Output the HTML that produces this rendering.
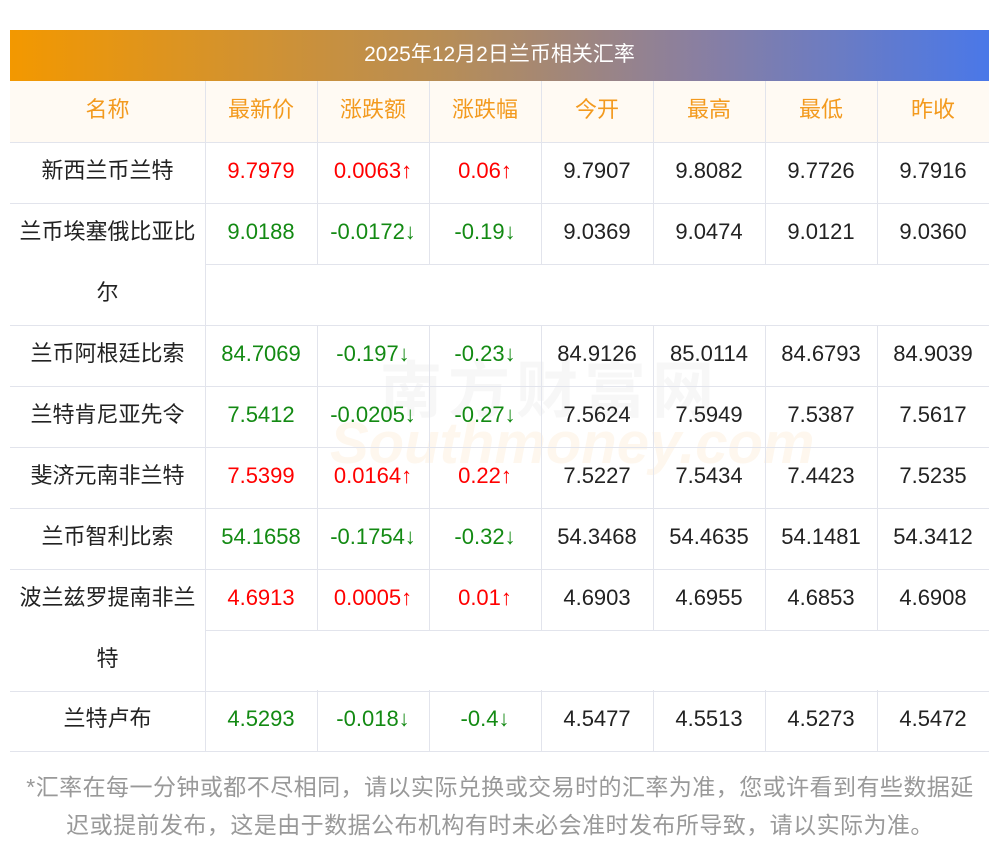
<!DOCTYPE html>
<html><head><meta charset="utf-8"><style>
body{margin:0;width:1000px;height:853px;background:#fff;font-family:"Liberation Sans","Noto Sans CJK SC",sans-serif;position:relative;overflow:hidden}
.t{position:absolute;left:10px;top:30px;width:979px;height:51px;background:linear-gradient(90deg,#f39800,#b68d58 45%,#8a7fa0 70%,#4a78e8);color:#fff;font-size:21px;line-height:49px;text-align:center}
.hd{position:absolute;left:10px;top:81px;width:979px;height:61px;background:#fffaf3}
.c{position:absolute;height:61px;line-height:58px;text-align:center;font-size:22px;box-sizing:border-box;color:#222}
.hl{position:absolute;height:1px;background:#e2e4ec}
.vl{position:absolute;width:1px;background:#e2e4ec}
.n{position:absolute;left:10px;width:195px;text-align:center;font-size:22px;line-height:61px;margin-top:-2px;color:#222}
div.h{color:#f39a1e}
div.r{color:#f00}div.g{color:#138a13}
.f{position:absolute;left:0;width:1000px;text-align:center;color:#999;font-size:23px;letter-spacing:0.45px;white-space:nowrap}
.wm{position:absolute;color:rgba(200,200,200,0.15);font-weight:bold}
</style></head><body>
<div class="t">2025年12月2日兰币相关汇率</div>
<div class="hd"></div>
<div class="wm" style="left:380px;top:340px;font-size:62px;letter-spacing:6px">南方财富网</div>
<div class="wm" style="left:330px;top:410px;font-size:58px;font-style:italic;color:rgba(250,200,140,0.15)">Southmoney.com</div>
<div id="g"></div>
<div class="f" style="top:768px">*汇率在每一分钟或都不尽相同，请以实际兑换或交易时的汇率为准，您或许看到有些数据延</div>
<div class="f" style="top:806px">迟或提前发布，这是由于数据公布机构有时未必会准时发布所导致，请以实际为准。</div>
<script>
var xs=[10,205,317,429,541,653,765,877,989];
var rows=[
["名称","最新价","涨跌额","涨跌幅","今开","最高","最低","昨收",81,1,"h"],
["新西兰币兰特","9.7979","0.0063↑","0.06↑","9.7907","9.8082","9.7726","9.7916",142,1,"r"],
["兰币埃塞俄比亚比<br>尔","9.0188","-0.0172↓","-0.19↓","9.0369","9.0474","9.0121","9.0360",203,2,"g"],
["兰币阿根廷比索","84.7069","-0.197↓","-0.23↓","84.9126","85.0114","84.6793","84.9039",325,1,"g"],
["兰特肯尼亚先令","7.5412","-0.0205↓","-0.27↓","7.5624","7.5949","7.5387","7.5617",386,1,"g"],
["斐济元南非兰特","7.5399","0.0164↑","0.22↑","7.5227","7.5434","7.4423","7.5235",447,1,"r"],
["兰币智利比索","54.1658","-0.1754↓","-0.32↓","54.3468","54.4635","54.1481","54.3412",508,1,"g"],
["波兰兹罗提南非兰<br>特","4.6913","0.0005↑","0.01↑","4.6903","4.6955","4.6853","4.6908",569,2,"r"],
["兰特卢布","4.5293","-0.018↓","-0.4↓","4.5477","4.5513","4.5273","4.5472",690,1,"g"]];
var h="";
rows.forEach(function(r,i){
 var y=r[8],k=r[9];
 h+='<div class="n'+(i==0?' h':'')+'" style="top:'+y+'px">'+r[0]+'</div>';
 for(var j=1;j<8;j++){
  var cls=i==0?'h':(j<=3?r[10]:'');
  h+='<div class="c '+cls+'" style="left:'+xs[j]+'px;width:'+(xs[j+1]-xs[j])+'px;top:'+y+'px">'+r[j]+'</div>';
 }
 h+='<div class="hl" style="left:10px;width:979px;top:'+(y+61*k)+'px"></div>';
 if(k==2)h+='<div class="hl" style="left:205px;width:784px;top:'+(y+61)+'px"></div>';
 for(var j=1;j<8;j++)h+='<div class="vl" style="left:'+xs[j]+'px;top:'+y+'px;height:'+(j==1?61*k:61)+'px"></div>';
});
document.getElementById("g").innerHTML=h;
</script>
</body></html>
